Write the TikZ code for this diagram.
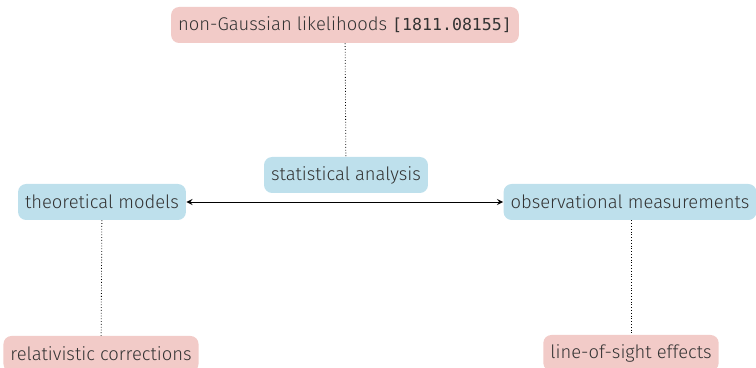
\documentclass[tikz,border=0pt]{standalone}
\usepackage{fontspec}
\setmainfont{Fira Sans}[UprightFont=* Light]
\setmonofont{DejaVu Sans Mono}[Scale=0.9]
\definecolor{boxblue}{HTML}{BEE0EC}
\definecolor{boxpink}{HTML}{F2CBC8}
\definecolor{inktext}{HTML}{333333}
\tikzset{
  topic/.style={fill=boxblue, rounded corners=4pt, text=inktext, inner xsep=3.5pt, minimum height=18pt},
  detail/.style={fill=boxpink, rounded corners=4pt, text=inktext, inner xsep=3.5pt, minimum height=18pt},
  link/.style={densely dotted, draw=black},
}
\begin{document}
\begin{tikzpicture}[x=0.5pt, y=-0.5pt, every node/.style={font=\fontsize{9.2}{11}\selectfont}]
  \useasboundingbox (0,0) rectangle (756,368);

  \node[detail] (likely) at (345,25) {non-Gaussian likelihoods \texttt{[1811.08155]}};
  \node[topic] (stats) at (346,175) {statistical analysis};
  \node[topic] (theory) at (102,202) {theoretical models};
  \node[topic] (observ) at (630,202) {observational measurements};
  \node[detail] (relcorr) at (101,354) {relativistic corrections};
  \node[detail] (lossight) at (631,353) {line-of-sight effects};

  \draw[link] (likely) -- (stats);
  \draw[link] (theory) -- (relcorr);
  \draw[link] (observ.south -| lossight) -- (lossight);
  \draw[<->, >=stealth, draw=black] (theory) -- (observ);
\end{tikzpicture}
\end{document}
